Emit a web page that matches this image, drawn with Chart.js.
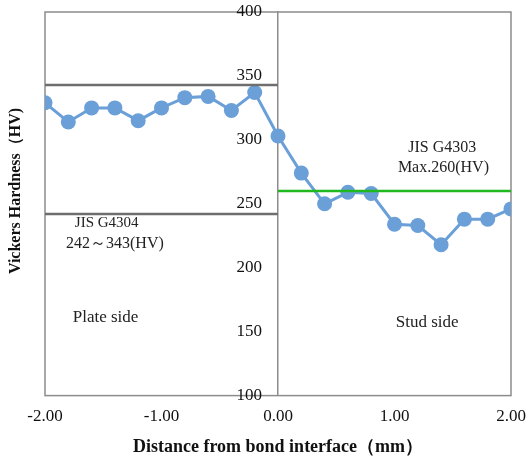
<!DOCTYPE html>
<html>
<head>
<meta charset="utf-8">
<script src="https://cdn.jsdelivr.net/npm/chart.js@4.4.1/dist/chart.umd.min.js"></script>
<style>
  html, body { margin: 0; padding: 0; background: #fff; }
  #wrap { width: 530px; height: 456px; }
</style>
</head>
<body>
<div id="wrap"><canvas id="chart" width="530" height="456"></canvas></div>
<script>
  // distancia al interfaz (mm) y dureza medida (HV)
  var distances = [-2.0, -1.8, -1.6, -1.4, -1.2, -1.0, -0.8, -0.6, -0.4, -0.2, 0.0,
                   0.2, 0.4, 0.6, 0.8, 1.0, 1.2, 1.4, 1.6, 1.8, 2.0];
  var hardness = [329, 314, 325, 325, 315, 325, 333, 334, 323, 337, 303,
                  274, 250, 259, 258, 234, 233, 218, 238, 238, 246];

  // limites de norma
  var plateLimitX = [-2, 0];
  var plateUpper = [343, 343];
  var plateLower = [242, 242];
  var studLimitX = [0, 2];
  var studMax = [260, 260];

  var yTicks = [100, 150, 200, 250, 300, 350, 400];
  var xTicks = [-2, -1, 0, 1, 2];

  // notas sobre el grafico (coordenadas en datos)
  var notes = [
    { text: 'JIS G4304', x: -1.47, y: 235, size: 15 },
    { text: '242\uFF5E343(HV)', x: -1.40, y: 219, size: 16 },
    { text: 'Plate side', x: -1.48, y: 161, size: 17 },
    { text: 'Stud side', x: 1.28, y: 157, size: 17 },
    { text: 'JIS G4303', x: 1.41, y: 294, size: 16 },
    { text: 'Max.260(HV)', x: 1.42, y: 278, size: 16 }
  ];

  var serif = '"Liberation Serif", "Times New Roman", serif';

  function toPoints(xs, ys) {
    var out = [];
    for (var i = 0; i < xs.length; i++) out.push({ x: xs[i], y: ys[i] });
    return out;
  }

  var framePlugin = {
    id: 'frame',
    beforeDatasetsDraw: function (chart) {
      var a = chart.chartArea, ctx = chart.ctx;
      ctx.save();
      ctx.strokeStyle = '#8c8c8c';
      ctx.lineWidth = 1.5;
      ctx.strokeRect(a.left, a.top, a.right - a.left, a.bottom - a.top);
      ctx.restore();
    },
    afterDraw: function (chart) {
      var ctx = chart.ctx, xs = chart.scales.x, ys = chart.scales.y;
      ctx.save();
      ctx.fillStyle = '#222';
      ctx.textAlign = 'center';
      ctx.textBaseline = 'middle';
      notes.forEach(function (n) {
        ctx.font = n.size + 'px ' + serif;
        ctx.fillText(n.text, xs.getPixelForValue(n.x), ys.getPixelForValue(n.y));
      });

      // etiquetas del eje Y, a la izquierda del eje en x = 0
      var axisX = xs.getPixelForValue(0);
      ctx.textAlign = 'right';
      ctx.font = '17px ' + serif;
      ctx.fillStyle = '#111';
      ys.ticks.forEach(function (t) {
        ctx.fillText(String(t.value), axisX - 16, ys.getPixelForValue(t.value));
      });

      // titulo eje Y
      ctx.textAlign = 'center';
      ctx.translate(16, 191);
      ctx.rotate(-Math.PI / 2);
      ctx.font = 'bold 16px ' + serif;
      ctx.fillText('Vickers Hardness\uFF08HV)', 0, 0);
      ctx.restore();
    }
  };

  new Chart(document.getElementById('chart'), {
    type: 'scatter',
    data: {
      datasets: [
        {
          label: 'upper',
          data: toPoints(plateLimitX, plateUpper),
          showLine: true,
          borderColor: '#6e6e6e',
          borderWidth: 2.5,
          pointRadius: 0
        },
        {
          label: 'lower',
          data: toPoints(plateLimitX, plateLower),
          showLine: true,
          borderColor: '#6e6e6e',
          borderWidth: 2.5,
          pointRadius: 0
        },
        {
          label: 'stud',
          data: toPoints(studLimitX, studMax),
          showLine: true,
          borderColor: '#1fb81f',
          borderWidth: 2.5,
          pointRadius: 0
        },
        {
          label: 'HV',
          data: toPoints(distances, hardness),
          showLine: true,
          borderColor: '#6a9fd8',
          backgroundColor: '#6a9fd8',
          borderWidth: 3,
          pointRadius: 7.5,
          pointHoverRadius: 7.5,
          pointBorderWidth: 0
        }
      ]
    },
    options: {
      responsive: false,
      animation: false,
      layout: { padding: { left: 45, right: 19, top: 12, bottom: 0 } },
      plugins: {
        legend: { display: false },
        tooltip: { enabled: false }
      },
      scales: {
        x: {
          type: 'linear',
          min: -2,
          max: 2,
          afterBuildTicks: function (s) {
            s.ticks = xTicks.map(function (v) { return { value: v }; });
          },
          afterFit: function (s) {
            s.paddingLeft = 0;
            s.paddingRight = 0;
          },
          grid: { display: false, drawTicks: false },
          border: { display: false },
          ticks: {
            padding: 11,
            color: '#111',
            font: { family: serif, size: 17 },
            callback: function (v) { return Number(v).toFixed(2); }
          },
          title: {
            display: true,
            text: 'Distance from bond interface\uFF08mm\uFF09',
            color: '#111',
            font: { family: serif, size: 18, weight: 'bold', lineHeight: 1 },
            padding: { top: 0, bottom: 0 }
          }
        },
        y: {
          position: { x: 0 },
          min: 100,
          max: 400,
          afterBuildTicks: function (s) {
            s.ticks = yTicks.map(function (v) { return { value: v }; });
          },
          afterFit: function (s) {
            s.paddingTop = 0;
            s.paddingBottom = 0;
          },
          grid: { display: false, drawTicks: false },
          border: { display: true, color: '#8c8c8c', width: 1.5 },
          ticks: { display: false }
        }
      }
    },
    plugins: [framePlugin]
  });
</script>
</body>
</html>
